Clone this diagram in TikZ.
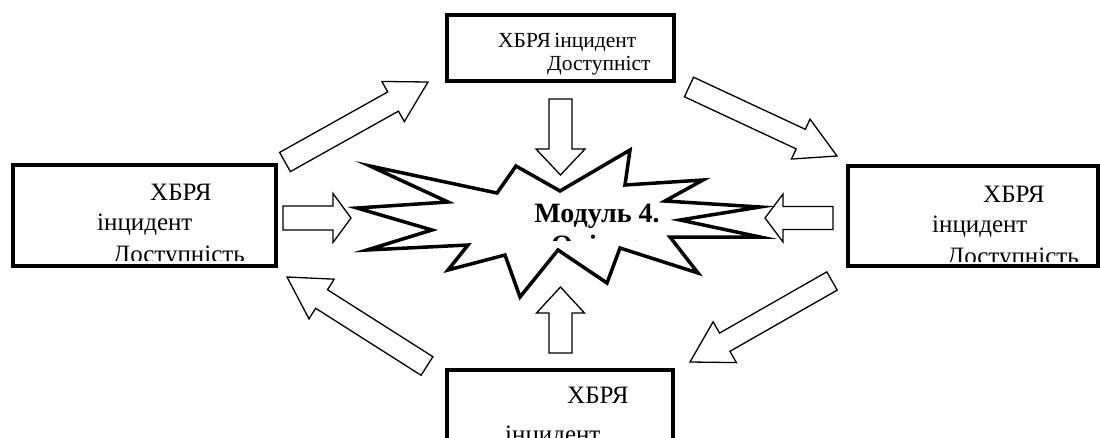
\documentclass[tikz,border=0pt]{standalone}
\usepackage{fontspec}
\setmainfont{Liberation Serif}
\usetikzlibrary{calc}
\tikzset{
  box/.style={draw, line width=4pt, inner sep=0pt, outer sep=0pt},
  barrow/.style={draw, line width=1.3pt, fill=white, line join=miter},
  starshape/.style={draw, line width=3.5pt, fill=white, line join=miter},
  lbl/.style={anchor=base west, inner sep=0pt, font=\fontsize{25}{29}\selectfont},
  lbls/.style={anchor=base west, inner sep=0pt, font=\fontsize{21.5}{25}\selectfont},
  ttl/.style={anchor=base, inner sep=0pt, font=\fontsize{28}{32}\selectfont\bfseries},
}
\newcommand\blockarrow[6]{%
  \coordinate (#1n) at ($(#3)!#6!(#2)$);
  \draw[barrow] ($(#2)!#4!90:(#3)$) -- ($(#1n)!#4!90:(#3)$) -- ($(#1n)!#5!90:(#3)$) -- (#3)
    -- ($(#1n)!#5!-90:(#3)$) -- ($(#1n)!#4!-90:(#3)$) -- ($(#2)!#4!-90:(#3)$) -- cycle;}
\begin{document}
\begin{tikzpicture}[x=1pt,y=-1pt]
\clip (0,0) rectangle (1100,437);
\fill[white] (0,0) rectangle (1100,437);

% boxes
\node[box, minimum width=262.5pt, minimum height=100.5pt] (L) at (144.25,215.25) {};
\node[box, minimum width=227pt, minimum height=66pt] (T) at (560.5,48) {};
\node[box, minimum width=250pt, minimum height=99.5pt] (R) at (973,215.75) {};
\node[box, minimum width=226pt, minimum height=100pt] (B) at (560,420) {};

% box texts
\begin{scope}
  \clip (15,167) rectangle (273.5,260);
  \node[lbl] (l1) at (150,200) {ХБРЯ};
  \node[lbl] (l2) at (97,230) {інцидент};
  \node[lbl] (l3) at (113,262) {Доступність};
\end{scope}
\node[lbls] (t1) at (498,47) {ХБРЯ\hspace{-2pt} інцидент};
\node[lbls] (t2) at (547,70) {Доступніст};
\begin{scope}
  \clip (850,168) rectangle (1096,261);
  \node[lbl] (r1) at (983,202) {ХБРЯ};
  \node[lbl] (r2) at (932,232) {інцидент};
  \node[lbl] (r3) at (947,264) {Доступність};
\end{scope}
\node[lbl] (b1) at (567,403) {ХБРЯ};
\node[lbl] (b2) at (505,442) {інцидент};

% block arrows
\coordinate (a1t) at (285,162);   \coordinate (a1h) at (428,82);
\coordinate (a2t) at (689,87);    \coordinate (a2h) at (837,156);
\coordinate (a3t) at (427,366);   \coordinate (a3h) at (287,277);
\coordinate (a4t) at (832,281);   \coordinate (a4h) at (690,362);
\coordinate (a5t) at (283,218);   \coordinate (a5h) at (351,218);
\coordinate (a6t) at (833,218);   \coordinate (a6h) at (765,218);
\coordinate (a7t) at (560.5,99);  \coordinate (a7h) at (560.5,175);
\coordinate (a8t) at (560.5,353); \coordinate (a8h) at (560.5,287);
\blockarrow{a1}{a1t}{a1h}{11pt}{23pt}{40pt}
\blockarrow{a2}{a2t}{a2h}{10.8pt}{22pt}{40pt}
\blockarrow{a3}{a3t}{a3h}{11pt}{23.5pt}{41pt}
\blockarrow{a4}{a4t}{a4h}{10.5pt}{23.5pt}{40pt}
\blockarrow{a5}{a5t}{a5h}{12pt}{24.5pt}{18pt}
\blockarrow{a6}{a6t}{a6h}{11.5pt}{24pt}{18pt}
\blockarrow{a7}{a7t}{a7h}{11.5pt}{24.5pt}{26pt}
\blockarrow{a8}{a8t}{a8h}{11.5pt}{24pt}{26pt}

% explosion
\draw[starshape] (370,166) -- (497,193) -- (516,166) -- (560,191) -- (630,150) -- (625,185)
  -- (703,180) -- (665,201) -- (760,207) -- (680,220) -- (760,237) -- (670,237)
  -- (698,273) -- (620,248) -- (607,283) -- (558,250) -- (520,297) -- (505,255)
  -- (448,270) -- (468,245) -- (367,250) -- (432,230) -- (357,208) -- (448,202) -- cycle;

% title
\node[ttl] (s1) at (597,222) {Модуль 4.};
\begin{scope}
  \clip (520,225) rectangle (680,240);
  \node[ttl] (s2) at (597,254) {Оцінка};
\end{scope}
\end{tikzpicture}
\end{document}
